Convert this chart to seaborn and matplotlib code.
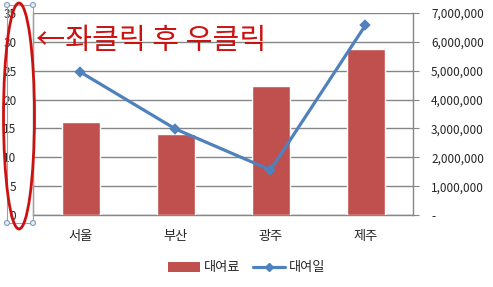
import matplotlib
matplotlib.use("Agg")
import matplotlib.pyplot as plt
from matplotlib.patches import Ellipse, Rectangle, Patch
from matplotlib.lines import Line2D
import seaborn as sns
import pandas as pd

categories = ["서울", "부산", "광주", "제주"]
fee = [16.1, 14.1, 22.4, 28.8]            # 대여료 (left axis)
days = [4950000, 2980000, 1560000, 6580000]  # 대여일 (right axis)
left_ticks = [0, 5, 10, 15, 20, 25, 30, 35]
right_ticks = [0, 1000000, 2000000, 3000000, 4000000, 5000000, 6000000, 7000000]
right_labels = ["-", "1,000,000", "2,000,000", "3,000,000", "4,000,000",
                "5,000,000", "6,000,000", "7,000,000"]

sns.set_style("white")
plt.rcParams['font.family'] = ['Noto Sans CJK KR', 'DejaVu Sans']

df = pd.DataFrame({"지역": categories, "대여료": fee, "대여일": days})

W, H = 493, 287
fig = plt.figure(figsize=(W / 100, H / 100), dpi=100)
ax = fig.add_axes([33 / W, 1 - 215 / H, 380 / W, 202 / H])

bar_color = "#C0504D"
line_color = "#4F81BD"
grid_color = "#868686"

sns.barplot(data=df, x="지역", y="대여료", color=bar_color, width=0.4,
            saturation=1, ax=ax, zorder=3)
ax.set_ylim(0, 35)
ax.set_xlim(-0.5, 3.5)
ax.set_yticks(left_ticks)
ax.set_yticklabels([str(t) for t in left_ticks], fontsize=8.5)
ax.yaxis.grid(True, color=grid_color, linewidth=1)
ax.set_axisbelow(True)
ax.set_xlabel("")
ax.set_ylabel("")
ax.set_xticks([0, 1, 2, 3])
ax.set_xticklabels(categories, fontsize=9.5)
ax.tick_params(axis="x", length=0, pad=11)
ax.tick_params(axis="y", length=0, pad=12)
ax.set_xticks([0.5, 1.5, 2.5, 3.5], minor=True)
ax.tick_params(axis="x", which="minor", length=4, color=grid_color, width=1)
for s in ["top", "right"]:
    ax.spines[s].set_visible(False)
for s in ["left", "bottom"]:
    ax.spines[s].set_color(grid_color)
    ax.spines[s].set_linewidth(1)

ax2 = ax.twinx()
sns.pointplot(data=df, x="지역", y="대여일", color=line_color, markers="D",
              linestyles="-", errorbar=None, ax=ax2, markersize=4.5,
              linewidth=2.3, zorder=4)
ax2.set_ylim(0, 7000000)
ax2.set_xlim(-0.5, 3.5)
ax2.set_yticks(right_ticks)
ax2.set_yticklabels(right_labels, fontsize=8.5)
ax2.set_ylabel("")
ax2.set_xlabel("")
ax2.tick_params(axis="y", length=4, color=grid_color, pad=9)
for s in ["top", "left", "bottom"]:
    ax2.spines[s].set_visible(False)
ax2.spines["right"].set_color(grid_color)
ax2.spines["right"].set_linewidth(1)

handles = [Patch(facecolor=bar_color, edgecolor="none", label="대여료"),
           Line2D([0], [0], color=line_color, lw=2.3, marker="D", markersize=4,
                  label="대여일")]
fig.legend(handles=handles, loc="center", bbox_to_anchor=(0.5, 1 - 268 / H),
           ncol=2, frameon=False, fontsize=9.5, handlelength=2.4,
           handletextpad=0.3, columnspacing=1.0)

# annotation: selected left axis with red circle and note
sel = Rectangle((7 / W, 1 - 223 / H), 26 / W, 218 / H, transform=fig.transFigure,
                fill=False, edgecolor="#A0A0A0", linewidth=0.8, zorder=5)
fig.patches.append(sel)
for (hx, hy) in [(7, 5), (33, 5), (7, 223), (33, 223)]:
    c = Ellipse((hx / W, 1 - hy / H), 5 / W, 5 / H, transform=fig.transFigure,
                facecolor="#E8EEF6", edgecolor="#7F9DB9", linewidth=0.8, zorder=6)
    fig.patches.append(c)
ell = Ellipse((19 / W, 1 - 116 / H), 31 / W, 226 / H, transform=fig.transFigure,
              fill=False, edgecolor="#CC1111", linewidth=2, zorder=7)
fig.patches.append(ell)
fig.text(36 / W, 1 - 41 / H, "←좌클릭 후 우클릭", color="#CC1111", fontsize=21,
         ha="left", va="center", family=["Noto Sans CJK KR", "DejaVu Sans"])

fig.savefig("out.png", dpi=100)
